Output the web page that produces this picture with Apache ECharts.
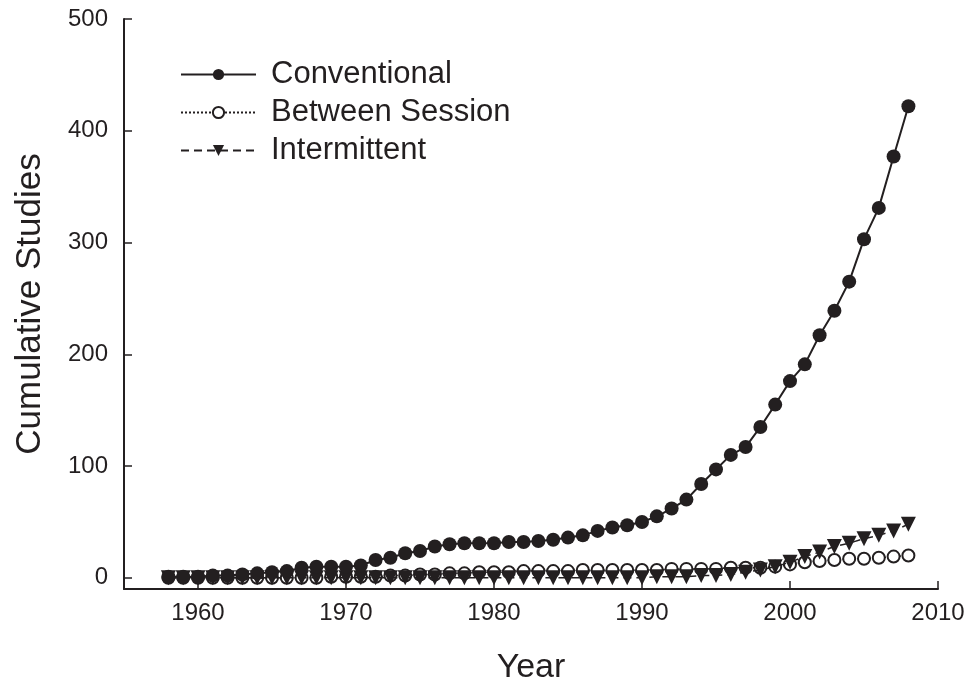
<!DOCTYPE html>
<html>
<head>
<meta charset="utf-8">
<script src="https://cdn.jsdelivr.net/npm/echarts@6/dist/echarts.min.js"></script>
<style>
html,body{margin:0;padding:0;background:#fff;}
#chart{width:973px;height:688px;}
</style>
</head>
<body>
<div id="chart"></div>
<script>
var years = [1958,1959,1960,1961,1962,1963,1964,1965,1966,1967,1968,1969,1970,1971,1972,1973,1974,1975,1976,1977,1978,1979,1980,1981,1982,1983,1984,1985,1986,1987,1988,1989,1990,1991,1992,1993,1994,1995,1996,1997,1998,1999,2000,2001,2002,2003,2004,2005,2006,2007,2008];
var conventional = [1,1,1,2,2,3,4,5,6,9,10,10,10,11,16,18,22,24,28,30,31,31,31,32,32,33,34,36,38,42,45,47,50,55,62,70,84,97,110,117,135,155,176,191,217,239,265,303,331,377,422];
var betweenSession = [0,0,0,0,0,0,0,0,0,0,0,1,1,1,1,2,2,3,3,4,4,5,5,5,6,6,6,6,7,7,7,7,7,7,8,8,8,8,9,9,9,10,12,14,15,16,17,17,18,19,20];
var intermittent = [0,0,0,0,0,0,0,0,0,0,0,0,0,0,0,0,0,0,0,0,0,0,0,0,0,0,0,0,0,0,0,0,0,1,1,1,2,2,3,5,7,10,14,19,23,28,31,35,38,42,48];
var xTicks = [1960,1970,1980,1990,2000,2010];
var yTicks = [0,100,200,300,400,500];

function pairs(vals){ return years.map(function(y,i){ return [y, vals[i]]; }); }

var ink = '#231f20';
var chart = echarts.init(document.getElementById('chart'));
chart.setOption({
  backgroundColor: '#ffffff',
  animation: false,
  textStyle: { fontFamily: 'Liberation Sans, Arial, sans-serif', color: ink },
  grid: { left: 124, right: 35, top: 19, bottom: 99, containLabel: false, outerBoundsMode: 'none' },
  legend: {
    data: ['Conventional','Between Session','Intermittent'],
    orient: 'vertical',
    left: 175, top: 54,
    itemWidth: 75, itemHeight: 14,
    itemGap: 7,
    textStyle: { fontSize: 31, color: ink, padding: [0,0,0,10] }
  },
  xAxis: {
    type: 'value', min: 1955, max: 2010,
    name: 'Year', nameLocation: 'middle', nameGap: 62,
    nameTextStyle: { fontSize: 34, color: ink },
    axisLine: { onZero: false, lineStyle: { color: ink, width: 2 } },
    axisTick: { inside: true, length: 8, lineStyle: { color: ink, width: 1.5 }, customValues: xTicks },
    axisLabel: { fontSize: 24, color: ink, margin: 12, customValues: xTicks, formatter: function(v){ return String(v); } },
    splitLine: { show: false }
  },
  yAxis: {
    type: 'value', min: -10, max: 500,
    name: 'Cumulative Studies', nameLocation: 'middle', nameGap: 76,
    nameTextStyle: { fontSize: 35, color: ink },
    axisLine: { show: true, onZero: false, lineStyle: { color: ink, width: 2 } },
    axisTick: { show: true, inside: true, length: 8, lineStyle: { color: ink, width: 1.5 }, customValues: yTicks },
    axisLabel: { fontSize: 24, color: ink, margin: 16, customValues: yTicks, formatter: function(v){ return String(v); } },
    splitLine: { show: false }
  },
  series: [
    {
      name: 'Between Session', type: 'line', data: pairs(betweenSession),
      symbol: 'circle', symbolSize: 12, z: 2,
      lineStyle: { color: ink, width: 1.5, type: 'dotted' },
      itemStyle: { color: '#ffffff', borderColor: ink, borderWidth: 2 }
    },
    {
      name: 'Intermittent', type: 'line', data: pairs(intermittent),
      symbol: 'triangle', symbolRotate: 180, symbolSize: 15, z: 3,
      lineStyle: { color: ink, width: 1.5, type: [8,5] },
      itemStyle: { color: ink }
    },
    {
      name: 'Conventional', type: 'line', data: pairs(conventional),
      symbol: 'circle', symbolSize: 14, z: 4,
      lineStyle: { color: ink, width: 2, type: 'solid' },
      itemStyle: { color: ink }
    }
  ]
});
</script>
</body>
</html>
